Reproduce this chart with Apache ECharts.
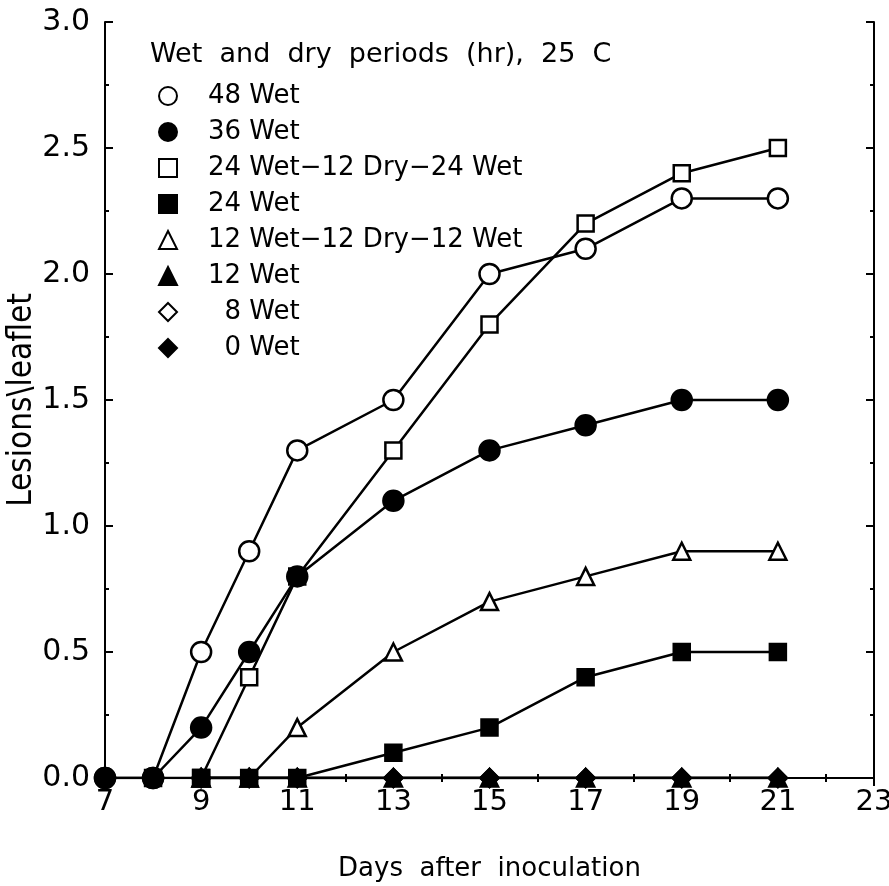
<!DOCTYPE html>
<html>
<head>
<meta charset="utf-8">
<script src="https://cdn.jsdelivr.net/npm/echarts@6/dist/echarts.min.js"></script>
<style>
  html, body { margin: 0; padding: 0; background: #fff; }
  #chart { width: 889px; height: 886px; }
</style>
</head>
<body>
<div id="chart"></div>
<script>
// days after inoculation
var days = [7, 8, 9, 10, 11, 13, 15, 17, 19, 21];

// lesions per leaflet (null = no marker shown that day)
var wet48      = [0, 0, 0.5, 0.9, 1.3, 1.5, 2.0, 2.1, 2.3, 2.3];
var wet36      = [0, 0, 0.2, 0.5, 0.8, 1.1, 1.3, 1.4, 1.5, 1.5];
var wet24dry24 = [null, 0, 0, 0.4, 0.8, 1.3, 1.8, 2.2, 2.4, 2.5];
var wet24      = [null, null, 0, 0, 0, 0.1, 0.2, 0.4, 0.5, 0.5];
var wet12dry12 = [null, null, 0, 0, 0.2, 0.5, 0.7, 0.8, 0.9, 0.9];
var wet12      = [null, null, 0, 0, 0, 0, 0, 0, 0, 0];
var wet8       = [null, null, 0, 0, 0, 0, 0, 0, 0, 0];
var wet0       = [null, null, 0, 0, 0, 0, 0, 0, 0, 0];

var names = ['48 Wet', '36 Wet', '24 Wet\u221212 Dry\u221224 Wet', '24 Wet',
             '12 Wet\u221212 Dry\u221212 Wet', '12 Wet', '  8 Wet', '  0 Wet'];

var font = 'DejaVu Sans';

function pairs(ys) {
    var out = [];
    days.forEach(function (d, i) {
        if (ys[i] !== null) out.push([d, ys[i]]);
    });
    return out;
}

// name, values, symbol, filled, size, z
function mk(name, ys, symbol, filled, size, z) {
    return {
        name: name,
        type: 'line',
        data: pairs(ys),
        symbol: symbol,
        symbolSize: size,
        showAllSymbol: true,
        z: z,
        lineStyle: { color: '#000', width: 2.5 },
        itemStyle: {
            color: filled ? '#000' : '#fff',
            borderColor: '#000',
            borderWidth: 2.5
        },
        emphasis: { disabled: true },
        animation: false
    };
}

var chart = echarts.init(document.getElementById('chart'));

var tickStyle = { color: '#000', width: 2 };

chart.setOption({
    backgroundColor: '#fff',
    title: {
        text: 'Wet  and  dry  periods  (hr),  25  C',
        left: 145,
        top: 36,
        textStyle: { fontFamily: font, fontSize: 27, fontWeight: 'normal', color: '#000' }
    },
    legend: {
        orient: 'vertical',
        left: 153,
        top: 78,
        itemWidth: 18,
        itemHeight: 18,
        itemGap: 10,
        selectedMode: false,
        data: [
            { name: names[0], icon: 'circle' },
            { name: names[1], icon: 'circle' },
            { name: names[2], icon: 'rect' },
            { name: names[3], icon: 'rect' },
            { name: names[4], icon: 'triangle' },
            { name: names[5], icon: 'triangle' },
            { name: names[6], icon: 'diamond' },
            { name: names[7], icon: 'diamond' }
        ],
        textStyle: { fontFamily: font, fontSize: 26, lineHeight: 26, color: '#000', padding: [0, 0, 0, 26] }
    },
    grid: { left: 105, right: 15, top: 22, bottom: 108, outerBoundsMode: 'none', containLabel: false },
    xAxis: [{
        type: 'value',
        min: 7, max: 23, interval: 2,
        name: 'Days  after  inoculation',
        nameLocation: 'middle',
        nameGap: 78,
        nameMoveOverlap: false,
        nameTextStyle: { fontFamily: font, fontSize: 26, color: '#000' },
        axisLine: { lineStyle: { color: '#000', width: 2 } },
        axisTick: { inside: true, length: 8, lineStyle: tickStyle },
        minorTick: { show: true, splitNumber: 2, length: 4, lineStyle: tickStyle },
        axisLabel: { fontFamily: font, fontSize: 29, color: '#000', margin: 10 },
        splitLine: { show: false }
    }, {
        type: 'value',
        position: 'top',
        min: 7, max: 23, interval: 2,
        axisLine: { lineStyle: { color: '#000', width: 2 } },
        axisTick: { inside: true, length: 8, lineStyle: tickStyle },
        minorTick: { show: true, splitNumber: 2, length: 4, lineStyle: tickStyle },
        axisLabel: { show: false },
        splitLine: { show: false }
    }],
    yAxis: [{
        type: 'value',
        min: 0, max: 3, interval: 0.5,
        name: 'Lesions\\leaflet',
        nameLocation: 'middle',
        nameGap: 66,
        nameMoveOverlap: false,
        nameTextStyle: { fontFamily: 'Liberation Sans Narrow, DejaVu Sans Condensed, sans-serif', fontSize: 33, color: '#000' },
        axisLine: { show: true, lineStyle: { color: '#000', width: 2 } },
        axisTick: { show: true, inside: true, length: 8, lineStyle: tickStyle },
        minorTick: { show: true, splitNumber: 2, length: 4, lineStyle: tickStyle },
        axisLabel: {
            fontFamily: font, fontSize: 30, color: '#000', margin: 15,
            formatter: function (v) { return v.toFixed(1); }
        },
        splitLine: { show: false }
    }, {
        type: 'value',
        position: 'right',
        min: 0, max: 3, interval: 0.5,
        axisLine: { show: true, lineStyle: { color: '#000', width: 2 } },
        axisTick: { show: true, inside: true, length: 8, lineStyle: tickStyle },
        minorTick: { show: true, splitNumber: 2, length: 4, lineStyle: tickStyle },
        axisLabel: { show: false },
        splitLine: { show: false }
    }],
    series: [
        mk(names[0], wet48, 'circle', false, 20, 3),
        mk(names[2], wet24dry24, 'rect', false, 16, 3),
        mk(names[4], wet12dry12, 'triangle', false, 17, 3),
        mk(names[6], wet8, 'diamond', false, 18, 3),
        mk(names[5], wet12, 'triangle', true, 17, 4),
        mk(names[7], wet0, 'diamond', true, 18, 4),
        mk(names[3], wet24, 'rect', true, 16, 4),
        mk(names[1], wet36, 'circle', true, 20, 5)
    ]
});
</script>
</body>
</html>
